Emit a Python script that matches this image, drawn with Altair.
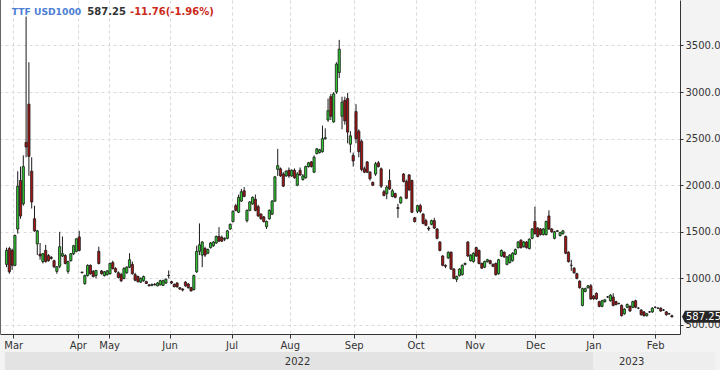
import json
import altair as alt
import pandas as pd

# ---------------- data ----------------
OPEN = [1150,1320,1300,1140,1530,2050,1800,2460,2870,2150,
        1640,1370,1260,1180,1300,1245,1225,1190,1075,1130,
        1240,1245,1075,1190,1265,1290,1445,1065,945,1030,
        1140,1075,1030,1290,1080,1030,1040,1050,1170,1105,
        1060,1040,1000,1060,1120,1150,1040,1020,960,975,
        965,930,925,935,920,930,925,950,1030,965,
        935,950,900,885,960,940,900,880,1070,1290,
        1250,1320,1270,1330,1350,1380,1450,1440,1420,1430,
        1530,1610,1780,1710,1830,1940,1620,1730,1800,1850,
        1770,1690,1660,1555,1640,1690,1830,2170,2176,2120,
        2100,2160,2100,2160,2000,2160,2060,2080,2200,2250,
        2140,2340,2350,2360,2500,2700,2950,2680,3000,3210,
        2740,2910,2930,2440,2320,2790,2580,2470,2176,2250,
        2140,2030,2120,2240,2176,1930,1910,2050,1880,1910,
        1760,1810,2120,2040,2110,2050,1650,1720,1780,1690,
        1620,1540,1580,1620,1530,1390,1240,1140,1220,1280,
        1100,990,1030,1040,1150,1390,1190,1180,1330,1300,
        1160,1120,1180,1190,1150,1160,1050,1240,1280,1150,
        1170,1190,1260,1330,1410,1340,1390,1320,1430,1610,
        1540,1530,1470,1470,1670,1530,1430,1510,1460,1480,
        1450,1280,1140,1110,1050,970,710,860,900,920,
        810,840,750,700,750,800,760,800,750,730,
        710,620,690,700,690,760,680,660,640,600,
        640,640,690,680,680,660,640,620,599]

HIGH = [1330,1340,1320,1470,2150,2200,2320,3810,3320,2300,
        1780,1520,1380,1270,1360,1260,1240,1200,1130,1500,
        1450,1260,1190,1270,1360,1430,1510,1075,1040,1150,
        1150,1090,1090,1340,1090,1080,1090,1170,1190,1120,
        1075,1060,1120,1130,1270,1180,1060,1030,1010,1030,
        975,940,945,950,960,985,985,1000,1085,975,
        945,960,905,895,970,950,910,1040,1350,1590,
        1400,1340,1320,1390,1400,1460,1550,1460,1440,1520,
        1590,1730,1800,1900,1960,1980,1740,1830,1880,1900,
        1790,1700,1670,1620,1740,1840,2100,2390,2190,2140,
        2160,2190,2170,2180,2140,2190,2120,2210,2250,2260,
        2320,2400,2390,2640,2610,2930,2980,3000,3320,3560,
        2950,2950,2990,2580,2350,2870,2600,2490,2200,2260,
        2150,2040,2250,2260,2190,1950,2000,2170,1960,1920,
        1800,1880,2130,2060,2120,2060,1660,1790,1800,1700,
        1640,1560,1630,1650,1540,1400,1250,1150,1290,1290,
        1110,1030,1110,1150,1170,1400,1260,1280,1340,1310,
        1170,1190,1210,1200,1160,1170,1210,1310,1290,1240,
        1260,1280,1320,1400,1420,1400,1400,1430,1540,1770,
        1550,1540,1540,1620,1730,1540,1510,1520,1500,1520,
        1460,1290,1200,1120,1060,980,900,900,930,940,
        820,850,760,770,780,810,830,840,760,740,
        720,680,730,710,760,770,690,670,650,630,
        650,690,700,690,690,670,650,630,610]

LOW = [1120,1050,1090,1130,1480,1640,1780,2300,2100,1750,
       1500,1250,1200,1160,1170,1180,1200,1110,1050,1110,
       1230,1150,1050,1180,1250,1280,1290,1055,930,1020,
       1040,1010,1000,1150,1040,1020,1030,1040,1095,1060,
       1000,960,990,1050,1110,1040,970,955,950,965,
       940,915,915,925,915,925,920,940,1000,940,
       905,900,880,860,910,890,860,870,1060,1250,
       1120,1230,1260,1320,1340,1370,1390,1390,1400,1420,
       1520,1600,1720,1700,1820,1870,1600,1720,1790,1720,
       1660,1630,1600,1530,1630,1680,1820,2100,2090,1980,
       2090,2080,2090,2070,1990,2100,2050,2070,2190,2190,
       2130,2330,2340,2350,2490,2680,2700,2670,2980,3150,
       2600,2650,2450,2350,2200,2450,2300,2150,2130,2130,
       2050,1990,2100,2190,1970,1880,1850,1950,1870,1860,
       1650,1800,2030,1850,1940,1700,1600,1700,1700,1580,
       1560,1510,1570,1530,1420,1290,1130,1110,1210,1090,
       990,960,1020,1030,1140,1230,1180,1170,1230,1150,
       1100,1110,1170,1150,1120,1030,1040,1230,1220,1140,
       1160,1180,1250,1320,1320,1330,1320,1310,1420,1470,
       1440,1460,1460,1460,1520,1490,1420,1500,1450,1470,
       1260,1170,1080,1050,990,890,700,850,890,770,
       770,770,690,690,740,790,750,700,710,720,
       590,610,680,640,680,680,670,600,590,590,
       630,630,680,670,640,650,600,610,580]

CLOSE = [1300,1070,1140,1460,1990,1670,2200,2410,2310,1820,
         1510,1510,1240,1265,1180,1190,1215,1125,1125,1340,
         1265,1160,1180,1265,1350,1425,1300,1060,1030,1140,
         1050,1020,1085,1160,1050,1070,1080,1160,1105,1070,
         1010,975,1105,1120,1200,1050,980,965,1000,1020,
         945,920,935,930,950,975,975,990,1032,950,
         910,910,885,875,920,900,865,1030,1290,1360,
         1390,1250,1310,1380,1390,1450,1400,1400,1430,1510,
         1580,1720,1730,1870,1930,1880,1730,1820,1870,1730,
         1670,1640,1610,1610,1730,1830,2090,2210,2100,1990,
         2150,2100,2160,2080,2120,2110,2100,2200,2240,2200,
         2300,2390,2380,2500,2510,2800,2740,2980,3300,3460,
         2890,2690,2570,2530,2260,2500,2360,2170,2140,2140,
         2070,2000,2230,2200,1990,1890,1980,1960,1940,1870,
         1750,1870,2040,1860,1950,1710,1610,1780,1720,1590,
         1570,1530,1620,1540,1430,1300,1140,1130,1280,1100,
         1000,1020,1100,1140,1160,1240,1250,1270,1240,1160,
         1110,1180,1200,1160,1130,1040,1200,1300,1230,1230,
         1250,1270,1310,1390,1330,1390,1330,1420,1530,1480,
         1450,1470,1530,1610,1530,1500,1500,1505,1490,1510,
         1270,1180,1140,1060,1000,900,890,890,920,780,
         780,780,700,760,770,800,820,710,720,730,
         600,670,720,650,750,690,680,610,600,620,
         640,680,690,680,650,660,610,620,587.25]

MONTHS = ["Mar", "Apr", "May", "Jun", "Jul", "Aug", "Sep", "Oct", "Nov", "Dec", "Jan", "Feb"]
MONTH_POS = [2.4, 25.5, 36.7, 58.3, 80.5, 101.3, 124.2, 146.3, 167.4, 189.1, 209.9, 232.0]
YEARS = ["2022", "2023"]
YEAR_START = [-0.55, 209.9]
YEAR_END = [209.9, 253.5]
YEAR_LABEL_POS = [104.1, 223.6]
YEAR_FILL = ["#e3e3e3", "#eeeeee"]
Y_TICKS = [500, 1000, 1500, 2000, 2500, 3000, 3500]
SYMBOL = "TTF USD1000"
LAST = "587.25"
CHANGE = "-11.76(-1.96%)"

assert len(OPEN) == len(HIGH) == len(LOW) == len(CLOSE)
N = len(CLOSE)

df = pd.DataFrame({"i": list(range(N)), "open": OPEN, "high": HIGH, "low": LOW, "close": CLOSE})
df["dir"] = ["up" if c >= o else "down" for o, c in zip(OPEN, CLOSE)]
last = df.tail(1).copy()
last["label"] = LAST

FONT = "DejaVu Sans"
xscale = alt.Scale(domain=[-0.55, 239.1], nice=False, zero=False)
yscale = alt.Scale(domain=[403, 3988], nice=False, zero=False)

label_expr = "%s[indexof(%s, datum.value)]" % (json.dumps(MONTHS), json.dumps(MONTH_POS))
xaxis = alt.Axis(values=MONTH_POS, labelExpr=label_expr, title=None, grid=True,
                 gridColor="#d9d9d9", gridDash=[3, 3], tickSize=4, tickColor="#333333",
                 domainColor="#333333", labelColor="#333333", labelFontSize=10, labelFont=FONT,
                 labelPadding=2, labelFlush=False, labelOverlap=False)
yaxis = alt.Axis(orient="right", values=Y_TICKS, format=".2f", title=None, grid=True,
                 gridColor="#d9d9d9", gridDash=[3, 3], tickSize=3, tickColor="#333333",
                 domainColor="#333333", labelColor="#333333", labelFontSize=10, labelFont=FONT,
                 labelPadding=2, labelFlush=False, labelOverlap=False)

base = alt.Chart(df).encode(x=alt.X("i:Q", scale=xscale, axis=xaxis))

wick = base.mark_rule(color="#1a1a1a", strokeWidth=1).encode(
    y=alt.Y("low:Q", scale=yscale, axis=yaxis), y2="high:Q")

body = base.mark_bar(size=2.2, stroke="#1a1a1a", strokeWidth=0.8).encode(
    y=alt.Y("open:Q", scale=yscale, axis=yaxis), y2="close:Q",
    color=alt.Color("dir:N", scale=alt.Scale(domain=["up", "down"], range=["#2fc82f", "#a81414"]), legend=None))

years = pd.DataFrame({"year": YEARS, "s": YEAR_START, "e": YEAR_END, "pos": YEAR_LABEL_POS, "fill": YEAR_FILL})
band = alt.Chart(years).mark_rect().encode(
    x=alt.X("s:Q", scale=xscale, axis=xaxis), x2="e:Q",
    y=alt.value(352), y2=alt.value(370),
    color=alt.Color("fill:N", scale=None))
year_text = alt.Chart(years).mark_text(font=FONT, fontSize=10, color="#333333", baseline="middle").encode(
    x=alt.X("pos:Q", scale=xscale, axis=xaxis), y=alt.value(362), text="year:N")

left_edge = alt.Chart(hdr := pd.DataFrame({"a": [SYMBOL], "b": [LAST], "c": [CHANGE]})).mark_rule(
    color="#666666", strokeWidth=1).encode(x=alt.value(0.5), y=alt.value(0), y2=alt.value(334))

TAG_PATH = "M-1,0L-0.85,-0.3L1,-0.3L1,0.3L-0.85,0.3Z"
tag = alt.Chart(last).mark_point(shape=TAG_PATH, filled=True, color="#262626", opacity=1, size=1600).encode(
    x=alt.value(702), y=alt.Y("close:Q", scale=yscale, axis=yaxis))
tag_text = alt.Chart(last).mark_text(font=FONT, fontSize=10, color="white", align="left", baseline="middle").encode(
    x=alt.value(686), y=alt.Y("close:Q", scale=yscale, axis=yaxis), text="label:N")

t1 = alt.Chart(hdr).mark_text(font=FONT, fontSize=9.2, fontWeight="bold", color="#4d7fd6", align="left", baseline="middle").encode(
    x=alt.value(11.7), y=alt.value(12), text="a:N")
t2 = alt.Chart(hdr).mark_text(font=FONT, fontSize=10, fontWeight="bold", color="#333333", align="left", baseline="middle").encode(
    x=alt.value(87.3), y=alt.value(12), text="b:N")
t3 = alt.Chart(hdr).mark_text(font=FONT, fontSize=10, fontWeight="bold", color="#cc2a1a", align="left", baseline="middle").encode(
    x=alt.value(130), y=alt.value(12), text="c:N")

chart = alt.layer(band, year_text, left_edge, wick, body, tag, tag_text, t1, t2, t3).properties(
    width=680, height=334,
    autosize=alt.AutoSizeParams(type="none"),
    padding={"left": 0, "top": 0, "right": 40, "bottom": 36},
    background="#f3f3f3",
).configure_view(fill="white", strokeWidth=0)

chart.save("out.html", embed_options={"renderer": "svg", "actions": False})
